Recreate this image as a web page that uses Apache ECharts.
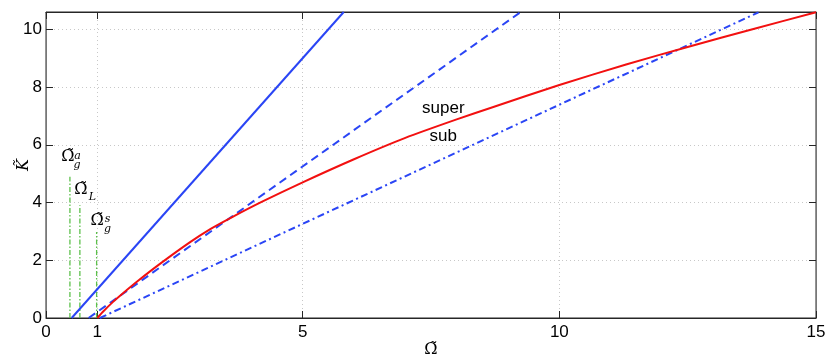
<!DOCTYPE html>
<html>
<head>
<meta charset="utf-8">
<script src="https://cdn.jsdelivr.net/npm/echarts@6/dist/echarts.min.js"></script>
<style>
  html, body { margin: 0; padding: 0; background: #fff; }
  #main { width: 830px; height: 362px; }
</style>
</head>
<body>
<div id="main"></div>
<script>
// 坐标轴范围和刻度
const xRange = [0, 15];
const yRange = [0, 10.6];
const xTickLabels = [0, 1, 5, 10, 15];

// 蓝色直线 (实线 / 虚线 / 点划线)
const blueSolid = [[0.5, 0], [5.8, 10.6]];
const blueDashed = [[0.83, 0], [9.24, 10.59]];
const blueDashDot = [[1.05, 0], [13.88, 10.59]];

// 红色曲线
const redOmega = [1.0, 1.1, 1.3, 1.5, 1.8, 2.2, 2.8, 3.2, 3.6, 4.2, 5.0, 6.0, 7.0, 8.0, 8.7, 10.0, 11.3, 12.5, 13.8, 15.0];
const redK     = [0.0, 0.2, 0.55, 0.86, 1.3, 1.85, 2.62, 3.08, 3.47, 4.02, 4.7, 5.5, 6.24, 6.88, 7.3, 8.07, 8.78, 9.39, 10.02, 10.59];

// 绿色竖线 (Ω_g^a, Ω_L, Ω_g^s)
const greenOmega = [0.466, 0.66, 0.986];
const greenTop = [4.89, 3.91, 2.98];

// 文字标注 super / sub
const superPos = [7.74, 7.27];
const subPos = [7.74, 6.28];

const chart = echarts.init(document.getElementById('main'));

const blue = '#2a45f5';
const red = '#f21010';
const green = '#5cc04a';
const serif = 'DejaVu Serif';

function greenLine(i) {
  return {
    type: 'line',
    data: [[greenOmega[i], 0], [greenOmega[i], greenTop[i]]],
    symbol: 'none',
    lineStyle: { color: green, width: 1.3, type: [5, 2, 1.5, 2] },
    z: 3
  };
}

// 标注文字的样式
const bigO = { fontFamily: serif, fontSize: 16, color: '#000' };
const small = { fontFamily: serif, fontStyle: 'italic', fontSize: 11, color: '#000' };

function mark(coord, text, style, offset) {
  return {
    coord: coord,
    symbol: 'circle',
    symbolSize: 0,
    label: Object.assign({ show: true, formatter: text, position: 'inside', offset: offset }, style)
  };
}

const ga = greenLine(0);
ga.markPoint = {
  silent: true,
  data: [
    mark([greenOmega[0], greenTop[0]], 'Ω\u0303', bigO, [-2, -20]),
    mark([greenOmega[0], greenTop[0]], 'a', small, [7.5, -21]),
    mark([greenOmega[0], greenTop[0]], 'g', small, [7, -12])
  ]
};
const gl = greenLine(1);
gl.markPoint = {
  silent: true,
  data: [
    mark([greenOmega[1], greenTop[1]], 'Ω\u0303', bigO, [1, -15]),
    mark([greenOmega[1], greenTop[1]], 'L', small, [12.5, -8])
  ]
};
const gs = greenLine(2);
gs.markPoint = {
  silent: true,
  data: [
    mark([greenOmega[2], greenTop[2]], 'Ω\u0303', bigO, [0.6, -11]),
    mark([greenOmega[2], greenTop[2]], 's', small, [11, -13]),
    mark([greenOmega[2], greenTop[2]], 'g', small, [11, -3])
  ]
};

const axisFont = { fontFamily: 'Liberation Sans', fontSize: 17, color: '#000' };

const option = {
  animation: false,
  backgroundColor: '#fff',
  grid: {
    left: 46, right: 14, top: 12, bottom: 44, containLabel: false, outerBoundsMode: 'none',
    show: true, borderColor: '#262626', borderWidth: 1
  },
  xAxis: [{
    type: 'value',
    min: xRange[0], max: xRange[1], interval: 5,
    name: 'Ω\u0303',
    nameLocation: 'middle',
    nameGap: 24,
    nameMoveOverlap: false,
    nameTextStyle: { fontFamily: serif, fontSize: 16, color: '#000' },
    axisLine: { onZero: false, lineStyle: { color: '#262626', width: 1 } },
    axisTick: { inside: true, length: 7, customValues: xTickLabels, lineStyle: { color: '#262626' } },
    axisLabel: Object.assign({ margin: 6, customValues: xTickLabels }, axisFont),
    splitLine: { show: true, lineStyle: { color: '#c8c8c8', type: [1, 3], width: 1 } }
  }, {
    type: 'value',
    position: 'top',
    min: xRange[0], max: xRange[1], interval: 5,
    axisLine: { show: true, onZero: false, lineStyle: { color: '#262626', width: 1 } },
    axisTick: { show: true, inside: true, length: 7, customValues: xTickLabels, lineStyle: { color: '#262626' } },
    axisLabel: { show: false },
    splitLine: { show: false }
  }],
  yAxis: [{
    type: 'value',
    min: yRange[0], max: yRange[1], interval: 2,
    name: 'K\u0303',
    nameLocation: 'middle',
    nameGap: 14,
    nameMoveOverlap: false,
    nameTextStyle: { fontFamily: serif, fontStyle: 'italic', fontSize: 16, color: '#000' },
    axisLine: { show: true, onZero: false, lineStyle: { color: '#777', width: 1 } },
    axisTick: { show: true, inside: true, length: 7, lineStyle: { color: '#262626' } },
    axisLabel: Object.assign({ margin: 4, showMaxLabel: false }, axisFont),
    splitLine: { show: true, lineStyle: { color: '#c8c8c8', type: [1, 3], width: 1 } }
  }, {
    type: 'value',
    position: 'right',
    min: yRange[0], max: yRange[1], interval: 2,
    axisLine: { show: true, onZero: false, lineStyle: { color: '#777', width: 1 } },
    axisTick: { show: true, inside: true, length: 7, lineStyle: { color: '#262626' } },
    axisLabel: { show: false },
    splitLine: { show: false }
  }],
  series: [
    ga, gl, gs,
    {
      type: 'line', data: blueSolid, symbol: 'none', xAxisIndex: 1, yAxisIndex: 1,
      lineStyle: { color: blue, width: 2 }, z: 4
    },
    {
      type: 'line', data: blueDashed, symbol: 'none', xAxisIndex: 1, yAxisIndex: 1,
      lineStyle: { color: blue, width: 2, type: [8, 5] }, z: 4
    },
    {
      type: 'line', data: blueDashDot, symbol: 'none', xAxisIndex: 1, yAxisIndex: 1,
      lineStyle: { color: blue, width: 2, type: [7, 3.5, 2, 3.5] }, z: 4
    },
    {
      type: 'line',
      data: redOmega.map((o, i) => [o, redK[i]]),
      symbol: 'none', smooth: 0.25,
      lineStyle: { color: red, width: 2 }, z: 5,
      markPoint: {
        silent: true,
        data: [
          mark(superPos, 'super', { fontFamily: 'Liberation Sans', fontSize: 17, color: '#000' }, [0, 0]),
          mark(subPos, 'sub', { fontFamily: 'Liberation Sans', fontSize: 17, color: '#000' }, [0, 0])
        ]
      }
    }
  ]
};

chart.setOption(option);
</script>
</body>
</html>
